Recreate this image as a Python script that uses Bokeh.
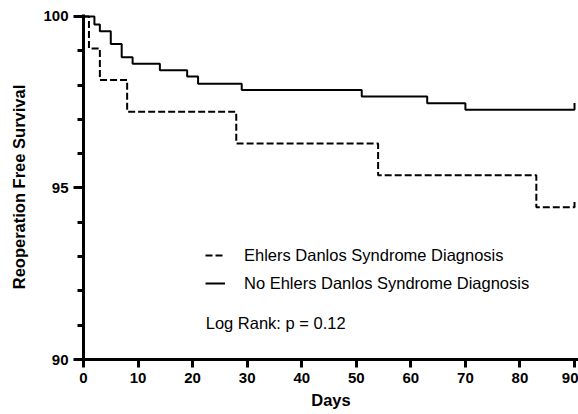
from bokeh.plotting import figure
from bokeh.models import FixedTicker, Range1d, Legend, LegendItem, Label
from bokeh.embed import file_html
from bokeh.resources import INLINE

# ---- data ----
no_eds_days = [0, 2, 3, 5, 7, 9, 14, 19, 21, 29, 51, 63, 70, 90]
no_eds_surv = [100, 99.77, 99.57, 99.20, 98.81, 98.62, 98.43, 98.25, 98.04, 97.86, 97.67, 97.47, 97.28, 97.28]
eds_days = [0, 1, 3, 8, 28, 54, 83, 90]
eds_surv = [100, 99.07, 98.15, 97.22, 96.30, 95.37, 94.44, 94.44]

x_ticks = [0, 10, 20, 30, 40, 50, 60, 70, 80, 90]
y_major = [90, 95, 100]
y_minor = [91, 92, 93, 94, 96, 97, 98, 99]

label_eds = "Ehlers Danlos Syndrome Diagnosis"
label_no = "No Ehlers Danlos Syndrome Diagnosis"
log_rank = "Log Rank: p = 0.12"
x_title = "Days"
y_title = "Reoperation Free Survival"

FONT = "Liberation Sans"
CENSOR = 0.2  # height of the censor tick drawn at the end of follow-up

p = figure(width=578, height=414,
           x_range=Range1d(0, 90.73), y_range=Range1d(90, 100.058),
           output_backend="svg", toolbar_location=None,
           min_border_left=83, min_border_right=0,
           min_border_top=14, min_border_bottom=55)
p.outline_line_color = None
p.xgrid.visible = False
p.ygrid.visible = False

# step curves, each ending with a small upward censor tick at the last day
r_eds = p.step(eds_days + [eds_days[-1]], eds_surv + [eds_surv[-1] + CENSOR],
               mode="after", line_color="black", line_width=2, line_dash="7 3")
r_no = p.step(no_eds_days + [no_eds_days[-1]], no_eds_surv + [no_eds_surv[-1] + CENSOR],
              mode="after", line_color="black", line_width=2)

# axes
xa = p.xaxis[0]
xa.ticker = FixedTicker(ticks=x_ticks)
xa.axis_label = x_title
xa.major_tick_out = 8
xa.major_tick_in = 0
xa.minor_tick_line_color = None
xa.major_label_standoff = 5
xa.axis_label_standoff = 5

ya = p.yaxis[0]
ya.ticker = FixedTicker(ticks=y_major, minor_ticks=y_minor)
ya.axis_label = y_title
ya.major_tick_out = 10
ya.major_tick_in = 0
ya.minor_tick_out = 6
ya.minor_tick_in = 0
ya.major_label_standoff = 5
ya.axis_label_standoff = 12

for ax in (xa, ya):
    ax.axis_line_width = 3
    ax.axis_line_color = "black"
    ax.major_tick_line_width = 3
    ax.major_tick_line_color = "black"
    ax.major_label_text_font = FONT
    ax.major_label_text_font_style = "bold"
    ax.major_label_text_font_size = "15px"
    ax.major_label_text_color = "black"
    ax.axis_label_text_font = FONT
    ax.axis_label_text_font_style = "bold"
    ax.axis_label_text_font_size = "16.5px"
    ax.axis_label_text_color = "black"
ya.minor_tick_line_width = 3
ya.minor_tick_line_color = "black"

legend = Legend(items=[LegendItem(label=label_eds, renderers=[r_eds]),
                       LegendItem(label=label_no, renderers=[r_no])],
                location=(122, 66), padding=0, spacing=8, margin=0,
                glyph_width=20, glyph_height=20, label_height=20,
                label_standoff=19, label_text_font=FONT,
                label_text_font_size="16.5px", label_text_color="black",
                border_line_color=None, background_fill_alpha=0)
p.add_layout(legend)

p.add_layout(Label(x=22.4, y=91.05, text=log_rank, text_font=FONT,
                   text_font_size="16.5px", text_color="black",
                   text_baseline="alphabetic"))

open("out.html", "w").write(file_html(p, INLINE))
